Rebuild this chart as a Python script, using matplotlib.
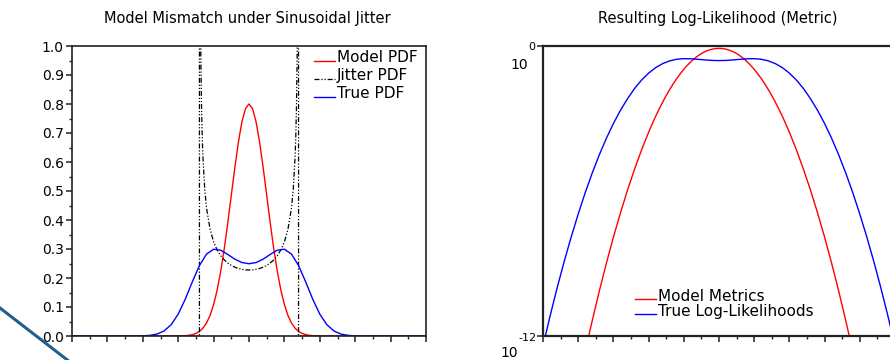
# ==========================================
# MODEL MISMATCH UNDER SINUSOIDAL JITTER
# ==========================================

import matplotlib
matplotlib.use("Agg")

import numpy as np
import matplotlib.pyplot as plt
from matplotlib.lines import Line2D
from matplotlib.legend_handler import HandlerLine2D
from matplotlib.ticker import MultipleLocator, NullLocator, NullFormatter


# ==========================================
# DATA
# ==========================================

# model pdf (red)
x_model = [
    -5.0, -4.0, -3.8, -3.6, -3.4, -3.2, -3.0, -2.8, -2.6, -2.4, -2.2, -2.0,
    -1.9, -1.8, -1.7, -1.6, -1.5, -1.4, -1.3, -1.2, -1.1, -1.0,
    -0.9, -0.8, -0.7, -0.6, -0.5, -0.4, -0.3, -0.2, -0.1, 0.0,
    0.1, 0.2, 0.3, 0.4, 0.5, 0.6, 0.7, 0.8, 0.9,
    1.0, 1.1, 1.2, 1.3, 1.4, 1.5, 1.6, 1.7, 1.8, 1.9,
    2.0, 2.2, 2.4, 2.6, 2.8, 3.0, 3.2, 3.4, 3.6, 3.8, 4.0, 5.0,
]
model_pdf = [
    1.5e-22, 1.0e-14, 2.3e-13, 4.4e-12, 7.3e-11, 1.02e-9, 1.22e-8, 1.24e-7,
    1.08e-6, 7.9e-6, 5.0e-5, 2.68e-4,
    5.85e-4, 0.00123, 0.00247, 0.00478, 0.00889, 0.01587, 0.0272, 0.0449,
    0.0711, 0.1083,
    0.1583, 0.2224, 0.3003, 0.3894, 0.4852, 0.5809, 0.6682, 0.7385, 0.7842,
    0.8,
    0.7842, 0.7385, 0.6682, 0.5809, 0.4852, 0.3894, 0.3003, 0.2224, 0.1583,
    0.1083, 0.0711, 0.0449, 0.0272, 0.01587, 0.00889, 0.00478, 0.00247,
    0.00123, 5.85e-4,
    2.68e-4, 5.0e-5, 7.9e-6, 1.08e-6, 1.24e-7, 1.22e-8, 1.02e-9, 7.3e-11,
    4.4e-12, 2.3e-13, 1.0e-14, 1.5e-22,
]

# jitter pdf (black, dash-dot)
x_jitter = [
    -5.0, -1.4, -1.399, -1.39, -1.38, -1.36, -1.34, -1.32, -1.3, -1.25,
    -1.2, -1.1, -1.0, -0.9, -0.8, -0.7, -0.6, -0.5, -0.4, -0.3, -0.2, -0.1,
    0.0,
    0.1, 0.2, 0.3, 0.4, 0.5, 0.6, 0.7, 0.8, 0.9, 1.0, 1.1, 1.2,
    1.25, 1.3, 1.32, 1.34, 1.36, 1.38, 1.39, 1.399, 1.4, 5.0,
]
jitter_pdf = [
    0.0, 0.0, 6.02, 1.906, 1.350, 0.958, 0.785, 0.682, 0.613, 0.505,
    0.441, 0.368, 0.325, 0.297, 0.277, 0.2625, 0.2517, 0.2434, 0.2373,
    0.2328, 0.2297, 0.2280,
    0.2274,
    0.2280, 0.2297, 0.2328, 0.2373, 0.2434, 0.2517, 0.2625, 0.277, 0.297,
    0.325, 0.368, 0.441,
    0.505, 0.613, 0.682, 0.785, 0.958, 1.350, 1.906, 6.02, 0.0, 0.0,
]

# true pdf (blue)
x_true = [
    -5.0, -4.8, -4.6, -4.4, -4.2, -4.0, -3.8, -3.6, -3.4, -3.2, -3.0,
    -2.8, -2.6, -2.4, -2.2, -2.0, -1.8, -1.6, -1.4, -1.2, -1.0,
    -0.8, -0.6, -0.4, -0.2, 0.0, 0.2, 0.4, 0.6, 0.8,
    1.0, 1.2, 1.4, 1.6, 1.8, 2.0, 2.2, 2.4, 2.6, 2.8,
    3.0, 3.2, 3.4, 3.6, 3.8, 4.0, 4.2, 4.4, 4.6, 4.8, 5.0,
]
true_pdf = [
    3.9e-13, 6.6e-12, 9.6e-11, 1.18e-9, 1.24e-8, 1.11e-7, 8.6e-7, 5.6e-6,
    3.15e-5, 1.51e-4, 6.2e-4,
    0.00218, 0.00657, 0.0173, 0.0389, 0.0754, 0.1270, 0.1870, 0.2431,
    0.2825, 0.2992,
    0.2959, 0.2813, 0.2650, 0.2533, 0.2492, 0.2533, 0.2650, 0.2813, 0.2959,
    0.2992, 0.2825, 0.2431, 0.1870, 0.1270, 0.0754, 0.0389, 0.0173, 0.00657,
    0.00218,
    6.2e-4, 1.51e-4, 3.15e-5, 5.6e-6, 8.6e-7, 1.11e-7, 1.24e-8, 1.18e-9,
    9.6e-11, 6.6e-12, 3.9e-13,
]

y_ticks_left = [0.0, 0.1, 0.2, 0.3, 0.4, 0.5, 0.6, 0.7, 0.8, 0.9, 1.0]


# ==========================================
# HELPERS
# ==========================================

plt.rcParams["font.family"] = ["DejaVu Sans"]

W, H = 890, 360


def px_box(x0, y0, x1, y1):
    # pixel box (top-left origin) -> figure fraction
    return [x0 / W, 1 - y1 / H, (x1 - x0) / W, (y1 - y0) / H]


def style_axes(ax, lw):
    for s in ax.spines.values():
        s.set_linewidth(lw)
        s.set_color("#222222")
    ax.tick_params(which="major", direction="out", length=4,
                   width=1.1, color="#222222", labelsize=10, pad=2)
    ax.tick_params(which="minor", direction="out", length=2.5,
                   width=1.0, color="#222222")
    ax.xaxis.set_major_locator(MultipleLocator(1.0))
    ax.xaxis.set_minor_locator(MultipleLocator(0.5))
    ax.xaxis.set_major_formatter(NullFormatter())


class BaselineHandler(HandlerLine2D):
    # legend sample drawn at the text baseline, scilab style
    def create_artists(self, legend, orig_handle, xdescent, ydescent,
                       width, height, fontsize, trans):
        artists = super().create_artists(legend, orig_handle, xdescent,
                                         ydescent, width, height,
                                         fontsize, trans)
        for a in artists:
            a.set_ydata(np.asarray(a.get_ydata()) - 3.0)
        return artists


def legenda(ax, **kw):
    h, l = ax.get_legend_handles_labels()
    ax.legend(h, l, frameon=False, fontsize=11, handlelength=1.35,
              handletextpad=0.15, borderpad=0.1,
              handler_map={Line2D: BaselineHandler()}, **kw)


# ==========================================
# FIGURE
# ==========================================

fig = plt.figure(figsize=(W / 100, H / 100), dpi=100)

# ------------------------------------------
# left panel
# ------------------------------------------

ax1 = fig.add_axes(px_box(72, 46, 426, 336))

ax1.plot(x_model, model_pdf, color="#ff0000", lw=1.0, label="Model PDF")
ax1.plot(x_jitter, jitter_pdf, color="black", lw=0.9,
         dashes=(4, 1.5, 1, 1.5, 1, 1.5), label="Jitter PDF")
ax1.plot(x_true, true_pdf, color="#0000ff", lw=1.0, label="True PDF")

ax1.set_xlim(-5, 5)
ax1.set_ylim(0, 1)
style_axes(ax1, 1.2)
ax1.set_yticks(y_ticks_left)
ax1.set_yticklabels([f"{v:.1f}" for v in y_ticks_left])
ax1.yaxis.set_minor_locator(MultipleLocator(0.05))

legenda(ax1, loc="upper right", bbox_to_anchor=(0.985, 0.997),
        labelspacing=0.2, borderaxespad=0.1)

fig.text(247.5 / W, 1 - 19 / H, "Model Mismatch under Sinusoidal Jitter",
         ha="center", va="center", fontsize=10.5)

# ------------------------------------------
# right panel
# ------------------------------------------

ax2 = fig.add_axes(px_box(543, 46, 895, 336))

ax2.plot(x_model, model_pdf, color="#ff0000", lw=1.0, label="Model Metrics")
ax2.plot(x_true, true_pdf, color="#0000ff", lw=1.0,
         label="True Log-Likelihoods")

ax2.set_yscale("log")
ax2.set_xlim(-5, 5)
ax2.set_ylim(1e-12, 1)
style_axes(ax2, 1.6)
ax2.set_yticks([1e-12, 1])
ax2.yaxis.set_major_formatter(NullFormatter())
ax2.yaxis.set_minor_locator(NullLocator())

legenda(ax2, loc="lower left", bbox_to_anchor=(0.258, 0.055),
        labelspacing=0.0, borderaxespad=0.0)

# scilab style exponent labels
fig.text(535 / W, 1 - 47 / H, "0", ha="right", va="center", fontsize=8)
fig.text(528 / W, 1 - 65 / H, "10", ha="right", va="center", fontsize=10)
fig.text(537 / W, 1 - 338 / H, "-12", ha="right", va="center", fontsize=8)
fig.text(518 / W, 1 - 353 / H, "10", ha="right", va="center", fontsize=10)

fig.text(717.5 / W, 1 - 19 / H, "Resulting Log-Likelihood (Metric)",
         ha="center", va="center", fontsize=10.5)

# stray stroke in the lower left corner
fig.add_artist(Line2D([0, 70 / W], [1 - 308 / H, 1 - 362 / H],
                      transform=fig.transFigure, color="#1f5f8f", lw=2.2))

fig.savefig("out.png", dpi=100)
